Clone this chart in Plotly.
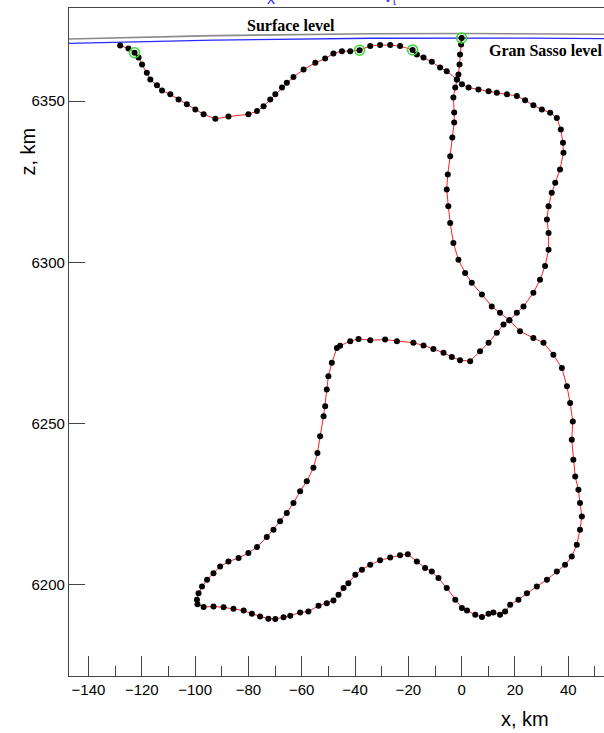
import numpy as np
import plotly.graph_objects as go

# Simulated track in the x-z plane (km), listed in order along the path
track_x_km = [
    -128.1, -125.0, -122.7, -121.2, -119.9, -118.1, -116.8, -114.3, -112.4, -109.3,
    -106.2, -103.1, -99.9, -96.8, -92.4, -87.5, -80.0, -76.8, -74.3, -71.8,
    -69.9, -67.4, -65.6, -63.1, -59.3, -54.9, -51.2, -48.1, -44.9, -41.8,
    -38.3, -34.3, -30.6, -26.8, -23.1, -18.4, -16.8, -14.3, -11.2, -8.1,
    -5.6, -1.8, 0.1, 2.6, 6.3, 10.1, 13.2, 17.0, 20.7, 23.8,
    26.9, 30.1, 33.2, 35.7, 37.2, 38.0, 38.2, 36.9, 35.1, 33.8,
    32.6, 32.0, 32.6, 32.6, 31.3, 29.4, 26.9, 23.2, 20.7, 17.9,
    15.7, 13.2, 10.1, 6.9, 3.2, -0.6, -3.7, -6.8, -10.6, -14.3,
    -18.1, -24.3, -28.7, -34.3, -38.7, -41.8, -45.6, -46.8, -48.7, -50.0,
    -50.6, -51.2, -51.8, -53.1, -54.1, -55.6, -58.1, -60.6, -63.1, -65.6,
    -68.1, -70.6, -73.1, -76.8, -80.0, -83.7, -87.5, -90.6, -93.1, -95.5,
    -97.4, -98.7, -99.3, -99.1, -96.8, -93.1, -89.3, -85.6, -81.8, -78.7,
    -75.6, -72.5, -69.9, -66.8, -64.3, -60.6, -57.5, -53.7, -50.6, -48.1,
    -46.2, -44.3, -42.5, -39.9, -37.4, -34.3, -30.6, -26.8, -23.1, -20.2,
    -16.8, -13.7, -11.2, -8.7, -5.6, -2.4, 0.1, 2.0, 5.1, 7.6,
    10.1, 11.9, 14.4, 16.3, 18.2, 21.3, 24.5, 28.2, 32.0, 35.7,
    38.8, 41.3, 43.2, 44.4, 45.1, 44.4, 43.8, 42.6, 41.9, 41.3,
    41.7, 40.7, 39.5, 37.6, 34.4, 30.7, 26.9, 21.9, 17.9, 14.4,
    11.3, 7.6, 3.8, 1.3, -1.2, -3.1, -4.3, -5.0, -5.6, -5.2,
    -4.3, -3.5, -2.8, -2.8, -3.1, -2.4, -1.8, -1.2, -0.8, -0.6,
    -0.2, 0.0,
]
track_z_km = [
    6367.3, 6366.3, 6365.0, 6363.5, 6361.4, 6358.8, 6356.7, 6354.9, 6353.3, 6352.1,
    6350.5, 6349.0, 6347.4, 6345.9, 6344.5, 6345.2, 6345.9, 6346.9, 6348.4, 6350.5,
    6352.1, 6354.2, 6355.7, 6357.5, 6359.8, 6361.9, 6363.2, 6364.8, 6365.5, 6365.5,
    6365.8, 6367.1, 6367.4, 6367.4, 6367.1, 6365.9, 6364.5, 6363.5, 6362.2, 6360.4,
    6359.3, 6356.7, 6355.2, 6354.2, 6353.6, 6353.1, 6352.6, 6352.1, 6351.6, 6350.3,
    6348.7, 6347.4, 6346.4, 6344.8, 6341.2, 6337.1, 6334.0, 6328.8, 6324.7, 6321.6,
    6317.4, 6313.3, 6309.1, 6303.9, 6298.8, 6294.6, 6290.5, 6286.3, 6284.3, 6282.0,
    6280.7, 6278.1, 6275.0, 6272.4, 6269.3, 6269.6, 6270.6, 6271.9, 6273.1, 6274.2,
    6275.0, 6275.5, 6276.0, 6275.8, 6276.2, 6275.5, 6274.1, 6273.4, 6268.8, 6264.6,
    6260.5, 6255.3, 6252.2, 6246.0, 6240.8, 6236.2, 6232.0, 6228.9, 6225.3, 6222.2,
    6219.6, 6217.0, 6214.7, 6211.6, 6209.8, 6208.2, 6207.1, 6205.6, 6203.5, 6201.5,
    6199.4, 6197.3, 6195.3, 6193.9, 6193.0, 6193.2, 6192.9, 6192.5, 6191.9, 6190.9,
    6190.1, 6189.4, 6189.3, 6189.8, 6190.3, 6191.3, 6191.6, 6193.4, 6194.2, 6195.0,
    6196.8, 6198.9, 6200.4, 6203.0, 6204.6, 6206.1, 6207.5, 6208.4, 6209.1, 6209.4,
    6207.1, 6205.1, 6204.0, 6202.0, 6198.9, 6195.3, 6192.7, 6191.9, 6190.6, 6189.9,
    6190.9, 6191.3, 6190.6, 6191.6, 6193.7, 6195.3, 6197.3, 6199.4, 6201.5, 6204.0,
    6206.1, 6208.7, 6212.3, 6217.0, 6221.1, 6225.3, 6229.4, 6233.5, 6238.7, 6244.9,
    6250.6, 6256.3, 6261.5, 6267.2, 6271.3, 6275.0, 6276.5, 6278.6, 6282.0, 6284.3,
    6286.3, 6290.0, 6293.6, 6296.7, 6300.8, 6306.0, 6312.2, 6317.4, 6322.6, 6327.2,
    6332.9, 6338.7, 6343.4, 6346.5, 6351.1, 6354.2, 6356.7, 6358.3, 6361.4, 6364.5,
    6367.6, 6369.6,
]

# Highlighted track points (km)
mark_x_km = [-122.7, -38.3, -18.4, 0.0]
mark_z_km = [6365.0, 6365.8, 6365.9, 6369.6]

# Reference levels
earth_radius_km = 6371.0
gran_sasso_depth_km = 1.4

x_range = [-147.3, 53.4]
z_range = [6171.6, 6378.9]

xs = np.linspace(x_range[0], x_range[1], 300)
surface_z = np.sqrt(earth_radius_km ** 2 - xs ** 2)
gran_sasso_z = np.sqrt((earth_radius_km - gran_sasso_depth_km) ** 2 - xs ** 2)

fig = go.Figure()

fig.add_trace(go.Scatter(x=xs, y=surface_z, mode="lines",
                         line=dict(color="#8a8a8a", width=1.6),
                         hoverinfo="skip", showlegend=False))
fig.add_trace(go.Scatter(x=xs, y=gran_sasso_z, mode="lines",
                         line=dict(color="#2a2aff", width=1.3),
                         hoverinfo="skip", showlegend=False))

fig.add_trace(go.Scatter(x=track_x_km, y=track_z_km, mode="lines+markers",
                         line=dict(color="#ff2020", width=1),
                         marker=dict(color="black", size=6),
                         showlegend=False))

fig.add_trace(go.Scatter(x=mark_x_km, y=mark_z_km, mode="markers",
                         marker=dict(symbol="circle-open", color="#33dd33",
                                     size=10, line=dict(width=1.5)),
                         showlegend=False))

serif = "Liberation Serif, Times New Roman, serif"
sans = "Liberation Sans, Arial, sans-serif"

fig.add_annotation(x=-64, y=6373.6, text="<b>Surface level</b>", showarrow=False,
                   font=dict(family=serif, size=16, color="black"))
fig.add_annotation(x=x_range[1], y=6365.6, text="<b>Gran Sasso level</b>",
                   showarrow=False, xanchor="right",
                   font=dict(family=serif, size=16, color="black"))

# Heading above the frame
fig.add_annotation(xref="paper", yref="paper", x=0.377, y=1, yanchor="bottom",
                   yshift=-1, text="x", showarrow=False,
                   font=dict(family=sans, size=16, color="#2a2aff"))
fig.add_annotation(xref="paper", yref="paper", x=0.6, y=1, yanchor="bottom",
                   yshift=-1, text="ν<sub>τ</sub>", showarrow=False,
                   font=dict(family=sans, size=16, color="#2a2aff"))

# Axis titles
fig.add_annotation(xref="paper", yref="paper", x=0.9, y=0, yshift=-30,
                   yanchor="top", text="x, km", showarrow=False,
                   font=dict(family=sans, size=20, color="black"))
fig.add_annotation(xref="paper", yref="paper", x=0, xshift=-41, y=0.785,
                   xanchor="center", yanchor="middle", text="z, km",
                   textangle=-90, showarrow=False,
                   font=dict(family=sans, size=20, color="black"))

fig.update_xaxes(range=x_range, showgrid=False, zeroline=False,
                 showline=True, linecolor="#444", linewidth=1.2, mirror=True,
                 ticks="inside", ticklen=20, tickwidth=1, tickcolor="#444",
                 tick0=0, dtick=20,
                 minor=dict(ticks="inside", ticklen=10, dtick=10, tick0=0,
                            tickcolor="#444", tickwidth=1, showgrid=False),
                 tickfont=dict(family=sans, size=15, color="black"))
fig.update_yaxes(range=z_range, showgrid=False, zeroline=False,
                 showline=True, linecolor="#444", linewidth=1.2,
                 ticks="inside", ticklen=16, tickwidth=1, tickcolor="#444",
                 tick0=6200, dtick=50, tickformat="d",
                 tickfont=dict(family=sans, size=15, color="black"))

fig.update_layout(width=604, height=733,
                  margin=dict(l=69, r=0, t=8, b=57),
                  plot_bgcolor="white", paper_bgcolor="white")

fig.write_html("out.html")
